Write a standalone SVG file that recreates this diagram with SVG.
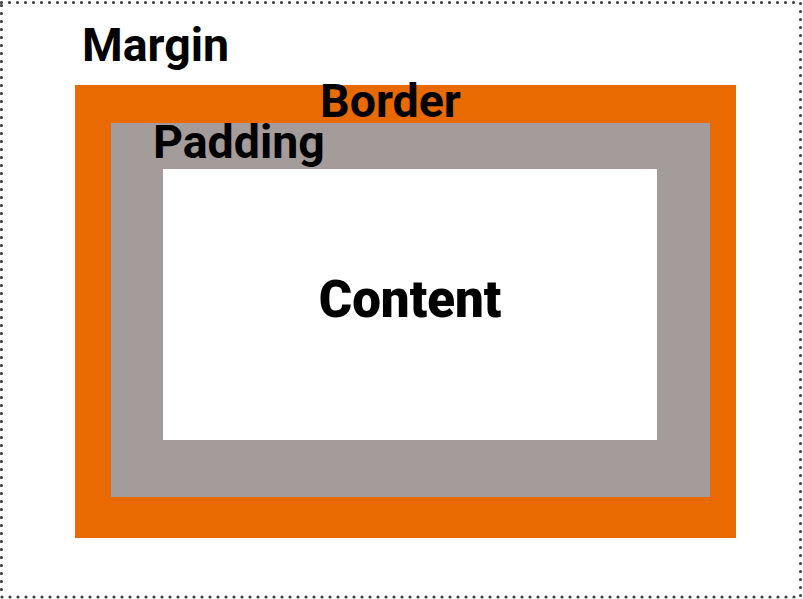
<svg xmlns="http://www.w3.org/2000/svg" width="803" height="599" viewBox="0 0 803 599">
<style>
.lbl{font-family:Roboto,"Liberation Sans",sans-serif;font-weight:700;font-size:46.5px;fill:#000}
.big{font-size:51px;font-weight:900}
</style>
<rect x="0" y="0" width="803" height="599" fill="#fff"/>
<g id="margin">
<rect x="1.5" y="2.5" width="799" height="594.5" fill="none" stroke="#444" stroke-width="3.2" stroke-dasharray="0 8" stroke-linecap="round"/>
<text class="lbl" x="82" y="61">Margin</text>
</g>
<g id="border">
<rect x="75" y="85" width="661" height="453" fill="#e86a00"/>
</g>
<g id="padding">
<rect x="111" y="123" width="599" height="374" fill="#a39c9a"/>
</g>
<g id="content">
<rect x="163" y="169" width="494" height="271" fill="#fff"/>
<text class="lbl big" x="410" y="317" text-anchor="middle">Content</text>
</g>
<text class="lbl" x="320" y="117">Border</text>
<text class="lbl" x="153" y="158">Padding</text>
<g id="connectors"/>
</svg>
